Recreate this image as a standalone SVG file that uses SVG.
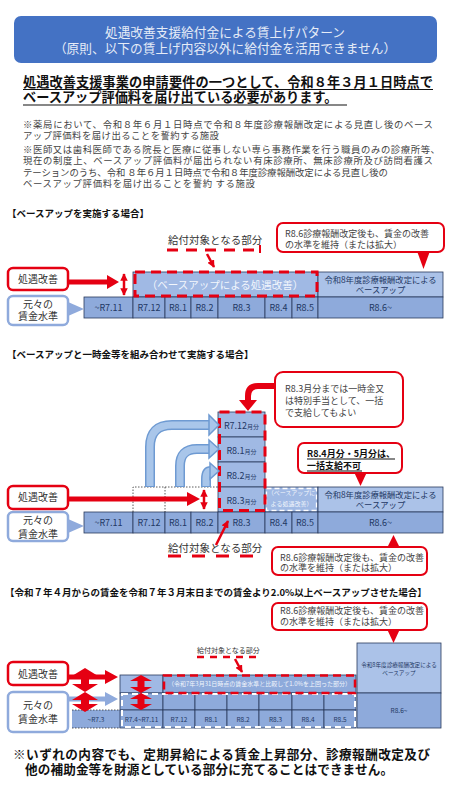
<svg xmlns="http://www.w3.org/2000/svg" width="450" height="800" viewBox="0 0 450 800">
<defs>
<style>
text{font-family:"Noto Sans CJK JP","Noto Sans",sans-serif;}
.hdr{fill:#E6ECF7;font-size:12.7px;text-anchor:middle}
.bold{font-weight:bold;fill:#111;font-size:13.2px}
.ul{stroke:#111;stroke-width:1.2}
.note{font-size:9.4px;fill:#444}
.sec{font-size:9.5px;font-weight:bold;fill:#111}
.cell{fill:#8EAADB;stroke:#2A3B5C;stroke-width:0.8}
.cellM{fill:#A0B9E4;stroke:#2A3B5C;stroke-width:0.8}
.cellL{fill:#ABC2E8;stroke:#2A3B5C;stroke-width:0.8}
.ct{font-size:9px;fill:#1F3864;text-anchor:middle}
.ct3{font-size:6.5px;fill:#1F3864;text-anchor:middle}
.rt{font-size:8.3px;fill:#1F3864;text-anchor:middle}
.rt3{font-size:5.6px;fill:#1F3864;text-anchor:middle}
.redbox{fill:#fff;stroke:#E50012;stroke-width:2.5}
.bluebox{fill:#fff;stroke:#8FAADC;stroke-width:2.5}
.lbl{font-size:10px;fill:#333;text-anchor:middle}
.callout{fill:#fff;stroke:#E50012;stroke-width:2}
.cot{font-size:9px;fill:#444}
.cotb{font-size:9px;fill:#111;font-weight:bold}
.rdash{fill:none;stroke:#E50012;stroke-width:3;stroke-dasharray:10 6}
.red{fill:#E50012}
.lb{fill:#8FAADC}
.gt{font-size:10.5px;fill:#333}
.gt3{font-size:7px;fill:#333}
.rline{stroke:#E50012;stroke-width:2.5;fill:none}
.barO{stroke:#6E9AD2;stroke-width:10;fill:none}
.barI{stroke:#A9C6EA;stroke-width:7;fill:none}
.bhead{fill:#A9C6EA;stroke:#6E9AD2;stroke-width:1.5}
.wt{fill:#F2F6FC;text-anchor:middle;font-size:10.5px}
.wt6{fill:#F2F6FC;text-anchor:middle;font-size:6px}
.foot{font-weight:bold;fill:#111;font-size:12.6px}
</style>
<marker id="rh" viewBox="0 0 10 10" refX="9" refY="5" markerWidth="3" markerHeight="3" orient="auto-start-reverse"><path d="M0,0 L10,5 L0,10 z" fill="#E50012"/></marker>
</defs>

<g id="title">
<rect x="14" y="16" width="423" height="47" rx="7" fill="#4472C4"/>
<text class="hdr" x="225" y="37">処遇改善支援給付金による賃上げパターン</text>
<text class="hdr" x="225" y="53">（原則、以下の賃上げ内容以外に給付金を活用できません）</text>
</g>

<g id="requirement">
<text class="bold" x="23" y="87" textLength="410">処遇改善支援事業の申請要件の一つとして、令和８年３月１日時点で</text>
<line class="ul" x1="23" y1="89.5" x2="433" y2="89.5"/>
<text class="bold" x="23" y="102">ベースアップ評価料を届け出ている必要があります。</text>
<line class="ul" x1="23" y1="105" x2="347" y2="105"/>
</g>

<g id="notes">
<text class="note" x="23" y="128" textLength="410">※薬局において、令和８年６月１日時点で令和８年度診療報酬改定による見直し後のベース</text>
<text class="note" x="23" y="139" textLength="196">アップ評価料を届け出ることを誓約する施設</text>
<text class="note" x="23" y="153" textLength="417">※医師又は歯科医師である院長と医療に従事しない専ら事務作業を行う職員のみの診療所等、</text>
<text class="note" x="23" y="164" textLength="410">現在の制度上、ベースアップ評価料が届出られない有床診療所、無床診療所及び訪問看護ス</text>
<text class="note" x="23" y="175.5" textLength="365">テーションのうち、令和 ８年６月１日時点で令和８年度診療報酬改定による見直し後の</text>
<text class="note" x="23" y="186.5" textLength="232">ベースアップ評価料を届け出ることを誓約 する施設</text>
</g>

<g id="section1">
<text class="sec" x="7" y="216.6">【ベースアップを実施する場合】</text>
<rect x="133" y="272" width="185" height="25" class="cellM"/>
<text class="wt" x="225" y="289">（ベースアップによる処遇改善）</text>
<rect x="318" y="272" width="125" height="25" class="cellL"/>
<text class="rt" x="380.5" y="283">令和8年度診療報酬改定による</text>
<text class="rt" x="380.5" y="292.5">ベースアップ</text>
<rect x="84" y="297" width="49" height="21" class="cell"/><text class="ct" x="108.5" y="311">~R7.11</text>
<rect x="133" y="297" width="32" height="21" class="cell"/><text class="ct" x="149" y="311">R7.12</text>
<rect x="165" y="297" width="26" height="21" class="cell"/><text class="ct" x="178" y="311">R8.1</text>
<rect x="191" y="297" width="27" height="21" class="cell"/><text class="ct" x="204.5" y="311">R8.2</text>
<rect x="218" y="297" width="47" height="21" class="cell"/><text class="ct" x="241.5" y="311">R8.3</text>
<rect x="265" y="297" width="27" height="21" class="cell"/><text class="ct" x="278.5" y="311">R8.4</text>
<rect x="292" y="297" width="26" height="21" class="cell"/><text class="ct" x="305" y="311">R8.5</text>
<rect x="318" y="297" width="125" height="21" class="cell"/><text class="ct" x="380.5" y="311">R8.6~</text>
<rect x="135" y="272" width="182" height="24" class="rdash"/>
</g>

<g id="s1-kaizen">
<rect x="8" y="268" width="60" height="22" rx="5" class="redbox"/>
<text class="lbl" x="38" y="283">処遇改善</text>
</g>
<g id="s1-moto">
<rect x="8" y="296" width="60" height="29" rx="5" class="bluebox"/>
<polygon points="68,302 84,309 68,316" class="lb"/>
<text class="lbl" x="38" y="307.8">元々の</text>
<text class="lbl" x="38" y="320">賃金水準</text>
</g>
<g id="s1-target">
<text class="gt" x="168" y="244">給付対象となる部分</text>
<line x1="167" y1="250" x2="259" y2="250" stroke="#E50012" stroke-width="3" stroke-dasharray="11 8"/>
<line x1="260" y1="245" x2="260" y2="253" stroke="#E50012" stroke-width="2"/>
</g>
<g id="s1-callout">
<rect x="277" y="223" width="167" height="29" rx="6" class="callout"/>
<polygon points="417,251 430,251 423.5,269" class="red"/>
<text class="cot" x="285" y="236.5">R8.6診療報酬改定後も、賃金の改善</text>
<text class="cot" x="285" y="247.5">の水準を維持（または拡大）</text>
</g>

<g id="section2">
<text class="sec" x="7" y="357.6">【ベースアップと一時金等を組み合わせて実施する場合】</text>
<rect x="218" y="412" width="47" height="25" class="cellM"/><text class="ct" x="241.5" y="428.5">R7.12<tspan font-size="6">月分</tspan></text>
<rect x="218" y="437" width="47" height="25" class="cellM"/><text class="ct" x="241.5" y="453.5">R8.1<tspan font-size="6">月分</tspan></text>
<rect x="218" y="462" width="47" height="25" class="cellM"/><text class="ct" x="241.5" y="478.5">R8.2<tspan font-size="6">月分</tspan></text>
<rect x="218" y="487" width="47" height="25" class="cellM"/><text class="ct" x="241.5" y="503.5">R8.3<tspan font-size="6">月分</tspan></text>
<rect x="265" y="487" width="53" height="25" class="cellM"/>
<rect x="266.5" y="488.5" width="50" height="22" fill="none" stroke="#fff" stroke-width="1.3" stroke-dasharray="5 3"/>
<text class="wt6" x="291.5" y="495">（ベースアップに</text>
<text class="wt6" x="291.5" y="505.5">よる処遇改善）</text>
<rect x="318" y="487" width="125" height="25" class="cellL"/>
<text class="rt" x="380.5" y="498">令和8年度診療報酬改定による</text>
<text class="rt" x="380.5" y="508">ベースアップ</text>
<rect x="84" y="512" width="49" height="21" class="cell"/><text class="ct" x="108.5" y="526">~R7.11</text>
<rect x="133" y="512" width="32" height="21" class="cell"/><text class="ct" x="149" y="526">R7.12</text>
<rect x="165" y="512" width="26" height="21" class="cell"/><text class="ct" x="178" y="526">R8.1</text>
<rect x="191" y="512" width="27" height="21" class="cell"/><text class="ct" x="204.5" y="526">R8.2</text>
<rect x="218" y="512" width="47" height="21" class="cell"/><text class="ct" x="241.5" y="526">R8.3</text>
<rect x="265" y="512" width="27" height="21" class="cell"/><text class="ct" x="278.5" y="526">R8.4</text>
<rect x="292" y="512" width="26" height="21" class="cell"/><text class="ct" x="305" y="526">R8.5</text>
<rect x="318" y="512" width="125" height="21" class="cell"/><text class="ct" x="380.5" y="526">R8.6~</text>
<path d="M133 512 V487 H218 M165 487 V512" fill="none" stroke="#333" stroke-width="0.8" stroke-dasharray="1.5 1.5"/>
<rect x="219.5" y="412" width="45.5" height="98.5" class="rdash"/>
</g>

<g id="s2-kaizen">
<rect x="8" y="486" width="60" height="23" rx="5" class="redbox"/>
<text class="lbl" x="38" y="501">処遇改善</text>
</g>
<g id="s2-moto">
<rect x="8" y="512" width="60" height="29" rx="5" class="bluebox"/>
<polygon points="68,519 84,526 68,533" class="lb"/>
<text class="lbl" x="38" y="523.8">元々の</text>
<text class="lbl" x="38" y="537.8">賃金水準</text>
</g>
<g id="s2-target">
<text class="gt" x="168" y="551.5">給付対象となる部分</text>
<line x1="168" y1="556" x2="262" y2="556" stroke="#E50012" stroke-width="3" stroke-dasharray="13 11"/>
</g>
<g id="s2-callout-lump">
<rect x="275" y="372" width="128" height="55" rx="8" class="callout"/>
<text class="cot" x="285" y="391.5">R8.3月分までは一時金又</text>
<text class="cot" x="285" y="403.5">は特別手当として、一括</text>
<text class="cot" x="285" y="415.5">で支給してもよい</text>
</g>
<g id="s2-callout-no">
<rect x="298" y="443" width="104" height="30" rx="6" class="callout"/>
<polygon points="354,472 367,472 360.5,486" class="red"/>
<text class="cotb" x="307" y="456.5">R8.4月分・5月分は、</text>
<line class="ul" x1="307" y1="459" x2="395" y2="459" stroke-width="1"/>
<text class="cotb" x="307" y="468.5">一括支給不可</text>
<line class="ul" x1="307" y1="471" x2="362" y2="471" stroke-width="1"/>
</g>
<g id="s2-callout-keep">
<rect x="272" y="547" width="155" height="28" rx="6" class="callout"/>
<polygon points="387,548 400,548 393.5,535" class="red"/>
<text class="cot" x="280" y="560.5">R8.6診療報酬改定後も、賃金の改善</text>
<text class="cot" x="280" y="571">の水準を維持（または拡大）</text>
</g>

<g id="section3">
<text class="sec" x="5" y="595.6">【令和７年４月からの賃金を令和７年３月末日までの賃金より2.0%以上ベースアップさせた場合】</text>
<rect x="357" y="643" width="84" height="50" class="cellL"/>
<text class="rt3" x="399" y="667">令和8年度診療報酬改定による</text>
<text class="rt3" x="399" y="675">ベースアップ</text>
<rect x="357" y="693" width="84" height="35" class="cell"/>
<text class="ct3" x="399" y="713">R8.6~</text>
<rect x="72" y="710" width="48" height="18" fill="#8EAADB"/>
<path d="M72 710 H120 M72 728 H120" stroke="#333" stroke-width="0.8" stroke-dasharray="1.5 1.5"/>
<rect x="120" y="675" width="43" height="18" class="cellM"/>
<rect x="120" y="693" width="43" height="17" class="cell"/>
<rect x="120" y="710" width="43" height="18" class="cell"/>
<rect x="163" y="675" width="193" height="18" class="cell"/>
<rect x="163" y="693" width="32" height="17" class="cell"/><rect x="163" y="710" width="32" height="18" class="cell"/>
<rect x="195" y="693" width="32" height="17" class="cell"/><rect x="195" y="710" width="32" height="18" class="cell"/>
<rect x="227" y="693" width="32" height="17" class="cell"/><rect x="227" y="710" width="32" height="18" class="cell"/>
<rect x="259" y="693" width="33" height="17" class="cell"/><rect x="259" y="710" width="33" height="18" class="cell"/>
<rect x="292" y="693" width="32" height="17" class="cell"/><rect x="292" y="710" width="32" height="18" class="cell"/>
<rect x="324" y="693" width="32" height="17" class="cell"/><rect x="324" y="710" width="32" height="18" class="cell"/>
<text class="ct3" x="96" y="721.5">~R7.3</text>
<text class="ct3" x="141.5" y="721.5">R7.4~R7.11</text>
<text class="ct3" x="179" y="721.5">R7.12</text>
<text class="ct3" x="211" y="721.5">R8.1</text>
<text class="ct3" x="243" y="721.5">R8.2</text>
<text class="ct3" x="275.5" y="721.5">R8.3</text>
<text class="ct3" x="308" y="721.5">R8.4</text>
<text class="ct3" x="340" y="721.5">R8.5</text>
<rect x="122" y="694" width="233" height="33" fill="none" stroke="#fff" stroke-width="2" stroke-dasharray="6 4"/>
<rect x="164" y="675.5" width="191" height="17.5" fill="none" stroke="#E50012" stroke-width="2.5" stroke-dasharray="8 5"/>
<text class="wt6" x="259.5" y="686">（令和7年3月31日時点の賃金水準と比較して1.0%を上回った部分）</text>
<path class="red" d="M141 675 L152 681 H144.5 V687 H152 L141 693 L130 687 H137.5 V681 H130 Z"/>
<path class="red" d="M141 693 L152 699 H144.5 V704 H152 L141 710 L130 704 H137.5 V699 H130 Z"/>
</g>

<g id="s3-kaizen">
<rect x="8" y="662" width="60" height="23" rx="5" class="redbox"/>
<text class="lbl" x="38" y="677.5">処遇改善</text>
</g>
<g id="s3-moto">
<rect x="8" y="692" width="60" height="40" rx="5" class="bluebox"/>
<text class="lbl" x="38" y="708.8">元々の</text>
<text class="lbl" x="38" y="722.5">賃金水準</text>
</g>
<g id="s3-target">
<text class="gt3" x="197" y="652.5">給付対象となる部分</text>
<line x1="197" y1="657" x2="259" y2="657" stroke="#E50012" stroke-width="2.5" stroke-dasharray="7 6"/>
</g>
<g id="s3-callout">
<rect x="272" y="603" width="155" height="27" rx="6" class="callout"/>
<polygon points="387,629 400,629 393.5,643" class="red"/>
<text class="cot" x="280" y="613.5">R8.6診療報酬改定後も、賃金の改善</text>
<text class="cot" x="280" y="625">の水準を維持（または拡大）</text>
</g>

<g id="connectors">
<path class="red" d="M68 279.5 H107 V275 L119 282 L107 289 V284.5 H68 Z"/>
<line class="rline" x1="124" y1="274" x2="124" y2="295" marker-start="url(#rh)" marker-end="url(#rh)"/>
<line class="rline" x1="207" y1="254" x2="214" y2="267" marker-end="url(#rh)"/>
<path d="M276 386 H258 Q248 386 248 396 V401" fill="none" stroke="#E50012" stroke-width="6"/>
<polygon points="239,400 257,400 248,411" class="red"/>
<path class="barO" d="M150 487 V447 Q150 425 172 425 H211"/>
<path class="barO" d="M180 487 V466 Q180 449 197 449 H211"/>
<path class="barO" d="M206 487 V479 Q206 471 211 471 H212"/>
<path class="barI" d="M150 486 V447 Q150 425 172 425 H212"/>
<path class="barI" d="M180 486 V466 Q180 449 197 449 H212"/>
<path class="barI" d="M206 486 V479 Q206 471 211 471 H213"/>
<polygon class="bhead" points="209,415 219,425 209,435"/>
<polygon class="bhead" points="209,440 219,449 209,458"/>
<polygon class="bhead" points="210,463 219,471 210,479"/>
<path class="red" d="M68 496.5 H187 V492 L200 499 L187 506 V501.5 H68 Z"/>
<line class="rline" x1="204" y1="490" x2="204" y2="509" marker-start="url(#rh)" marker-end="url(#rh)"/>
<line class="rline" x1="216" y1="545" x2="228" y2="521" marker-end="url(#rh)"/>
<line class="rline" x1="235" y1="659" x2="242" y2="672" stroke-width="2" marker-end="url(#rh)"/>
<path class="red" d="M68 674.5 H105 V670 L118 677 L105 684 V679.5 H68 Z"/>
<path class="lb" d="M68 696.5 H105 V692 L118 699 L105 706 V701.5 H68 Z"/>
<path class="red" d="M85 668 L98 676 H89 V684 H98 L85 692 L72 684 H81 V676 H72 Z"/>
<path class="red" d="M85 692 L98 700 H89 V704 H98 L85 712 L72 704 H81 V700 H72 Z"/>
</g>

<g id="footer">
<text class="foot" x="13" y="759" textLength="417">※いずれの内容でも、定期昇給による賃金上昇部分、診療報酬改定及び</text>
<text class="foot" x="25" y="773.5" textLength="368">他の補助金等を財源としている部分に充てることはできません。</text>
</g>
</svg>
